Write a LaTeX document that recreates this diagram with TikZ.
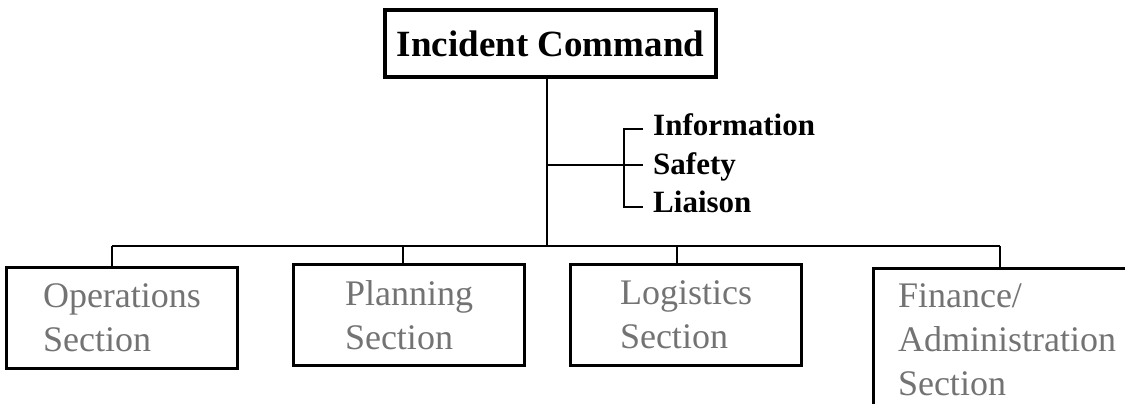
\documentclass[tikz,border=0pt]{standalone}
\usepackage{fontspec}
\setmainfont{Liberation Serif}
\begin{document}
\begin{tikzpicture}[x=1pt,y=-1pt,
  wire/.style={line width=2pt},
  chief/.style={draw, line width=4pt, minimum width=331pt, minimum height=67pt,
    inner sep=0pt, font=\fontsize{37}{40}\selectfont\bfseries},
  section/.style={draw, line width=3pt, minimum width=231pt, minimum height=101pt,
    inner sep=0pt, align=left, text=black!55, font=\fontsize{36}{44}\selectfont},
  staff/.style={anchor=base west, inner sep=0pt, font=\fontsize{31}{34}\selectfont\bfseries}]
\useasboundingbox (0,0) rectangle (1125,404);
\clip (0,0) rectangle (1125,404);

% command box
\node[chief] (ic) at (550.5,43.5) {Incident Command};

% junction points
\coordinate (hub) at (547,165);
\coordinate (bus) at (547,246);
\coordinate (t1) at (643,129);
\coordinate (t2) at (643,165);
\coordinate (t3) at (643,207);
\coordinate (d1) at (112,246);
\coordinate (d2) at (403,246);
\coordinate (d3) at (677,246);
\coordinate (d4) at (1000,246);

% command staff
\node[staff] (info) at ([shift={(10,6)}]t1) {Information};
\node[staff] (safety) at ([shift={(10,9)}]t2) {Safety};
\node[staff] (liaison) at ([shift={(10,5)}]t3) {Liaison};

% general staff sections
\node[section] (ops) at (122,318) {Operations\\Section};
\node[section] (plan) at (409,315) {Planning\\Section};
\node[section] (log) at (686,315) {Logistics\\Section};
\node[section, minimum width=268pt, minimum height=144pt, anchor=north west]
  (fin) at (871.5,266.5) {Finance/\\Administration\\Section};

% connectors
\draw[wire] (ic.south -| bus) -- (bus);
\draw[wire] (hub) -- (t2);
\draw[wire] (t1) -- ++(-19,0) |- (t3);
\draw[wire] (d1) -- (d4);
\draw[wire] (d1) -- (d1 |- ops.north);
\draw[wire] (d2) -- (d2 |- plan.north);
\draw[wire] (d3) -- (d3 |- log.north);
\draw[wire] (d4) -- (d4 |- fin.north);
\end{tikzpicture}
\end{document}
